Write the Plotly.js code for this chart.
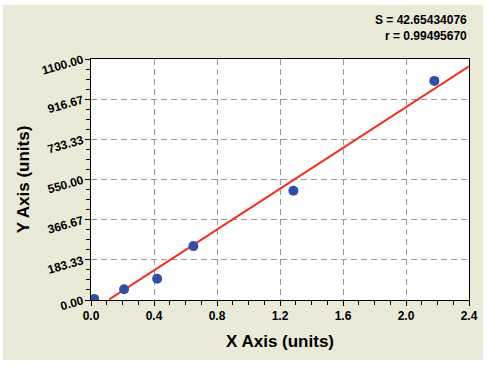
<!DOCTYPE html>
<html><head><meta charset="utf-8">
<script src="https://cdn.plot.ly/plotly-3.0.1.min.js"></script>
<style>html,body{margin:0;padding:0;background:#fff;}#chart{position:absolute;left:3px;top:5px;width:480px;height:355px;}</style>
</head><body><div id="chart"></div>
<script>
const pointX = [0.02, 0.21, 0.42, 0.65, 1.285, 2.18];
const pointY = [5, 49, 97, 246, 499, 1000];
const fitX = [0.116, 2.4];
const fitY = [3, 1067];
const yTickVals = [0, 183.33, 366.67, 550, 733.33, 916.67, 1100];
const yTickText = ["0.00", "183.33", "366.67", "550.00", "733.33", "916.67", "1100.00"];
const xTickVals = [0, 0.4, 0.8, 1.2, 1.6, 2.0, 2.4];
const xTickText = ["0.0", "0.4", "0.8", "1.2", "1.6", "2.0", "2.4"];
const statLines = ["S = 42.65434076", "r = 0.99495670"];

const data = [
  {x: fitX, y: fitY, mode: 'lines', type: 'scatter', line: {color: '#f52a1c', width: 2}, hoverinfo: 'skip'},
  {x: pointX, y: pointY, mode: 'markers', type: 'scatter', marker: {color: '#3050a8', size: 10}}
];
const tickFont = {family: 'Liberation Sans, Arial, sans-serif', size: 12, color: '#000', weight: 'bold'};
const layout = {
  width: 480, height: 355,
  margin: {l: 88, r: 14, t: 54, b: 60},
  paper_bgcolor: '#ebe9d8',
  plot_bgcolor: '#ffffff',
  showlegend: false,
  xaxis: {
    range: [0, 2.4], tickmode: 'array', tickvals: xTickVals, ticktext: xTickText,
    ticks: 'outside', ticklen: 5, tickwidth: 1, tickcolor: '#000',
    minor: {dtick: 0.1, ticks: 'outside', ticklen: 4, tickcolor: '#000', showgrid: false},
    showline: true, linecolor: '#000', linewidth: 1, mirror: true,
    showgrid: true, gridcolor: '#9a9a9a', griddash: '6px,4px', gridwidth: 1,
    zeroline: false, tickfont: tickFont,
    title: {text: 'X Axis (units)', font: {family: 'Liberation Sans, Arial, sans-serif', size: 17, color: '#000', weight: 'bold'}, standoff: 12}
  },
  yaxis: {
    range: [0, 1100], tickmode: 'array', tickvals: yTickVals, ticktext: yTickText,
    ticks: 'outside', ticklen: 5, tickwidth: 1, tickcolor: '#000',
    minor: {dtick: 1100/24, tick0: 0, ticks: 'outside', ticklen: 4, tickcolor: '#000', showgrid: false},
    showline: true, linecolor: '#000', linewidth: 1, mirror: true,
    showgrid: true, gridcolor: '#9a9a9a', griddash: '6px,4px', gridwidth: 1,
    zeroline: false, tickfont: tickFont, tickangle: -16,
    title: {text: 'Y Axis (units)', font: {family: 'Liberation Sans, Arial, sans-serif', size: 17, color: '#000', weight: 'bold'}, standoff: 6}
  },
  annotations: [
    {xref: 'paper', yref: 'paper', x: 1, y: 1, xanchor: 'right', yanchor: 'bottom', yshift: 14, showarrow: false, align: 'right',
     text: statLines.join('<br>'),
     font: {family: 'Liberation Sans Narrow, Arial Narrow, Arial, sans-serif', size: 12, color: '#000', weight: 'bold'}}
  ]
};
Plotly.newPlot('chart', data, layout, {displayModeBar: false, staticPlot: true});
</script></body></html>
